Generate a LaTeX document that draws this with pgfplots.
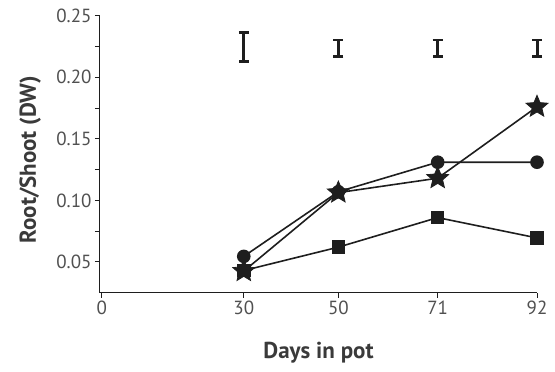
\documentclass[border=0pt]{standalone}
\usepackage{fontspec}
\setmainfont{PT Sans}
\usepackage{pgfplots}
\pgfplotsset{compat=1.18}
\usetikzlibrary{calc}

\definecolor{ink}{HTML}{1E1E1E}
\definecolor{txt}{HTML}{505050}
\definecolor{lab}{HTML}{3A3A3A}

\pgfdeclareplotmark{fstar}{%
  \pgfpathmoveto{\pgfpointpolar{90}{\pgfplotmarksize}}%
  \pgfpathlineto{\pgfpointpolar{126}{0.45\pgfplotmarksize}}%
  \pgfpathlineto{\pgfpointpolar{162}{\pgfplotmarksize}}%
  \pgfpathlineto{\pgfpointpolar{198}{0.45\pgfplotmarksize}}%
  \pgfpathlineto{\pgfpointpolar{234}{\pgfplotmarksize}}%
  \pgfpathlineto{\pgfpointpolar{270}{0.45\pgfplotmarksize}}%
  \pgfpathlineto{\pgfpointpolar{306}{\pgfplotmarksize}}%
  \pgfpathlineto{\pgfpointpolar{342}{0.45\pgfplotmarksize}}%
  \pgfpathlineto{\pgfpointpolar{18}{\pgfplotmarksize}}%
  \pgfpathlineto{\pgfpointpolar{54}{0.45\pgfplotmarksize}}%
  \pgfpathclose
  \pgfusepathqfillstroke
}

\begin{document}
\begin{tikzpicture}
\begin{axis}[
  name=ax,
  scale only axis,
  width=437pt, height=277pt,
  xmin=-0.4, xmax=92,
  ymin=0.025, ymax=0.25,
  axis x line*=bottom, axis y line*=left,
  axis line style={ink, line width=1pt},
  xtick={0,30,50,71,92},
  ytick={0.05,0.10,0.15,0.20,0.25},
  minor ytick={0.075,0.125,0.175,0.225},
  yticklabel style={/pgf/number format/.cd, fixed, fixed zerofill, precision=2},
  /pgf/number format/assume math mode=true,
  tick align=outside,
  major tick length=5pt, minor tick length=5pt,
  tick style={ink, line width=1pt},
  ticklabel style={font=\fontsize{19}{21}\selectfont, text=txt},
  xlabel={Days in pot},
  ylabel={Root/Shoot (DW)},
  label style={font=\bfseries\fontsize{23}{25}\selectfont, text=lab},
  xlabel style={at={(axis description cs:0.5,0)}, anchor=center, yshift=-60pt},
  ylabel style={at={(axis description cs:-0.160,0.48)}, anchor=center},
  clip=false,
]
% error bars (LSD)
\addplot[draw=none, mark=none, forget plot,
  error bars/.cd, y dir=both, y explicit, error mark=|,
  error bar style={ink, line width=3pt},
  error mark options={ink, mark size=5pt, line width=2.5pt}]
  coordinates {
    (30,0.2245) +- (0,0.0118)
    (50,0.2235) +- (0,0.0068)
    (71,0.2235) +- (0,0.0068)
    (92,0.2235) +- (0,0.0068)
  };
% squares
\addplot[ink, line width=1.6pt, mark=square*, mark size=6pt, mark options={fill=ink}]
  coordinates {(30,0.043) (50,0.062) (71,0.086) (92,0.0695)};
% circles
\addplot[ink, line width=1.6pt, mark=*, mark size=6pt, mark options={fill=ink}]
  coordinates {(30,0.0545) (50,0.107) (71,0.131) (92,0.131)};
% stars
\addplot[ink, line width=1.6pt, mark=fstar, mark size=11.5pt, mark options={fill=ink, line width=0.8pt}]
  coordinates {(30,0.0425) (50,0.1063) (71,0.118) (92,0.176)};
\end{axis}
\path[use as bounding box] ($(ax.south west)+(-100pt,-79.3pt)$) rectangle ($(ax.north east)+(18pt,15.7pt)$);
\end{tikzpicture}
\end{document}
